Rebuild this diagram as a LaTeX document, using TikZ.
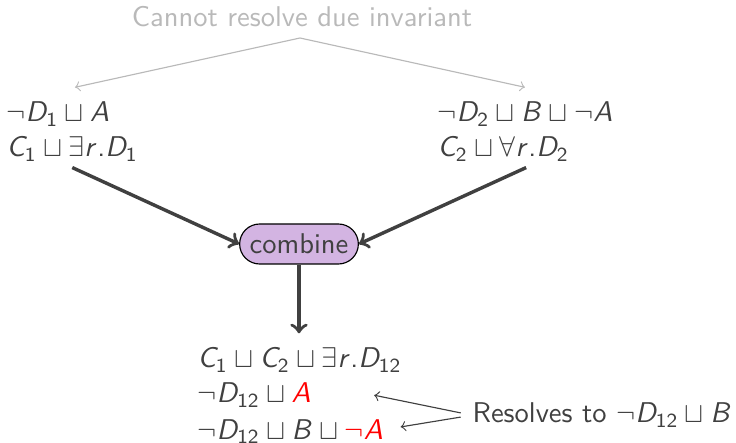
\documentclass[tikz,border=0pt]{standalone}
\usetikzlibrary{positioning}

% sans-serif maths, slide style
\DeclareMathVersion{sans}
\SetSymbolFont{operators}{sans}{OT1}{cmss}{m}{n}
\SetSymbolFont{letters}{sans}{OT1}{cmss}{m}{sl}
\SetSymbolFont{symbols}{sans}{OMS}{cmsy}{m}{n}
\SetSymbolFont{largesymbols}{sans}{OMX}{cmex}{m}{n}
\DeclareMathSymbol{.}{\mathord}{operators}{"2E}

\definecolor{textgray}{RGB}{64,64,64}
\definecolor{notegray}{RGB}{185,185,185}
\definecolor{combinefill}{RGB}{211,180,226}

\begin{document}
\begin{tikzpicture}[x=0.35pt,y=-0.35pt,
  every node/.style={font=\sffamily\mathversion{sans}, text=textgray},
  clause/.style={anchor=base west, inner sep=0pt},
  heavy/.style={->, very thick, draw=textgray},
  faint/.style={->, draw=notegray},
  pointer/.style={->, draw=textgray},
  op/.style={draw=black, fill=combinefill, rounded corners=7pt, inner xsep=3.5pt, minimum height=14pt}]

  \useasboundingbox (0,0) rectangle (736,443);

  % Note on top
  \node[anchor=base, inner sep=0pt, text=notegray] (note) at (302,27) {Cannot resolve due invariant};
  \coordinate (apex) at (300,38);

  % Premises
  \node[clause] (left1) at (6,122) {$\neg D_1 \sqcup A$};
  \node[clause] (left2) at (6,157) {$C_1 \sqcup \exists r.D_1$};
  \node[clause] (right1) at (437,122) {$\neg D_2 \sqcup B \sqcup \neg A$};
  \node[clause] (right2) at (437,157) {$C_2 \sqcup \forall r.D_2$};

  % Combination
  \node[op] (combine) at (299,244) {combine};

  % Result
  \node[clause] (out1) at (197,368) {$C_1 \sqcup C_2 \sqcup \exists r.D_{12}$};
  \node[clause] (out2) at (197,403) {$\neg D_{12} \sqcup \textcolor{red}{A}$};
  \node[clause] (out3) at (197,439) {$\neg D_{12} \sqcup B \sqcup \textcolor{red}{\neg A}$};
  \node[clause] (res) at (472,423) {Resolves to $\neg D_{12} \sqcup B$};

  % Connectors
  \draw[faint] (apex) -- ([xshift=6pt,yshift=5pt]left1.north);
  \draw[faint] (apex) -- ([yshift=5pt]right1.north);
  \draw[heavy] ([yshift=-2pt]left2.south) -- (combine.west);
  \draw[heavy] ([xshift=8pt,yshift=-2pt]right2.south) -- (combine.east);
  \draw[heavy, shorten >=5pt] (combine.south) -- (combine.south |- out1.north);
  \draw[pointer, shorten <=4pt] (res.west) -- ([xshift=22pt]out2.east);
  \draw[pointer, shorten <=4pt] (res.west) -- ([xshift=6pt,yshift=1.5pt]out3.east);
\end{tikzpicture}
\end{document}
